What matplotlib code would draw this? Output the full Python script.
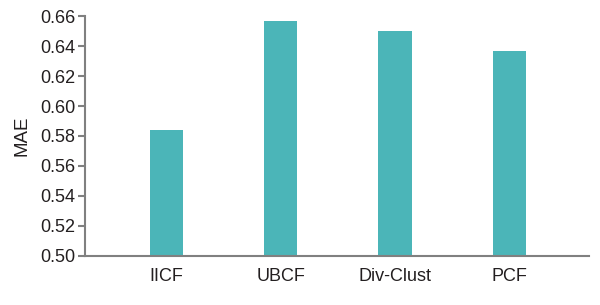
import matplotlib
matplotlib.use("Agg")
import matplotlib.pyplot as plt
from matplotlib import font_manager

# data
methods = ["IICF", "UBCF", "Div-Clust", "PCF"]
mae = [0.584, 0.657, 0.650, 0.637]
yticks = [0.50, 0.52, 0.54, 0.56, 0.58, 0.60, 0.62, 0.64, 0.66]

names = {f.name for f in font_manager.fontManager.ttflist}
family = "Liberation Sans Narrow" if "Liberation Sans Narrow" in names else "Liberation Sans"
plt.rcParams["font.family"] = [family, "DejaVu Sans"]

bar_color = "#4bb5b8"
axis_color = "#808080"
text_color = "#231f20"

fig = plt.figure(figsize=(6, 3.05), dpi=100)
ax = fig.add_axes([0.1417, 0.1607, 0.84, 0.7868])

x = list(range(len(methods)))
ax.bar(x, mae, width=0.29, color=bar_color, bottom=0)

ax.set_ylim(0.50, 0.66)
ax.set_xlim(-0.715, 3.7)
ax.set_yticks(yticks)
ax.set_yticklabels([f"{v:.2f}" for v in yticks])
ax.set_xticks(x)
ax.set_xticklabels(methods)
ax.set_ylabel("MAE", fontsize=13.5, color=text_color, labelpad=7)

for side in ["top", "right"]:
    ax.spines[side].set_visible(False)
for side in ["left", "bottom"]:
    ax.spines[side].set_color(axis_color)
    ax.spines[side].set_linewidth(1.5)

ax.tick_params(axis="y", direction="out", length=5, width=1.5, color=axis_color,
               labelsize=13, labelcolor=text_color, pad=2)
ax.tick_params(axis="x", length=0, labelsize=13, labelcolor=text_color, pad=9)

fig.savefig("out.png", dpi=100)
